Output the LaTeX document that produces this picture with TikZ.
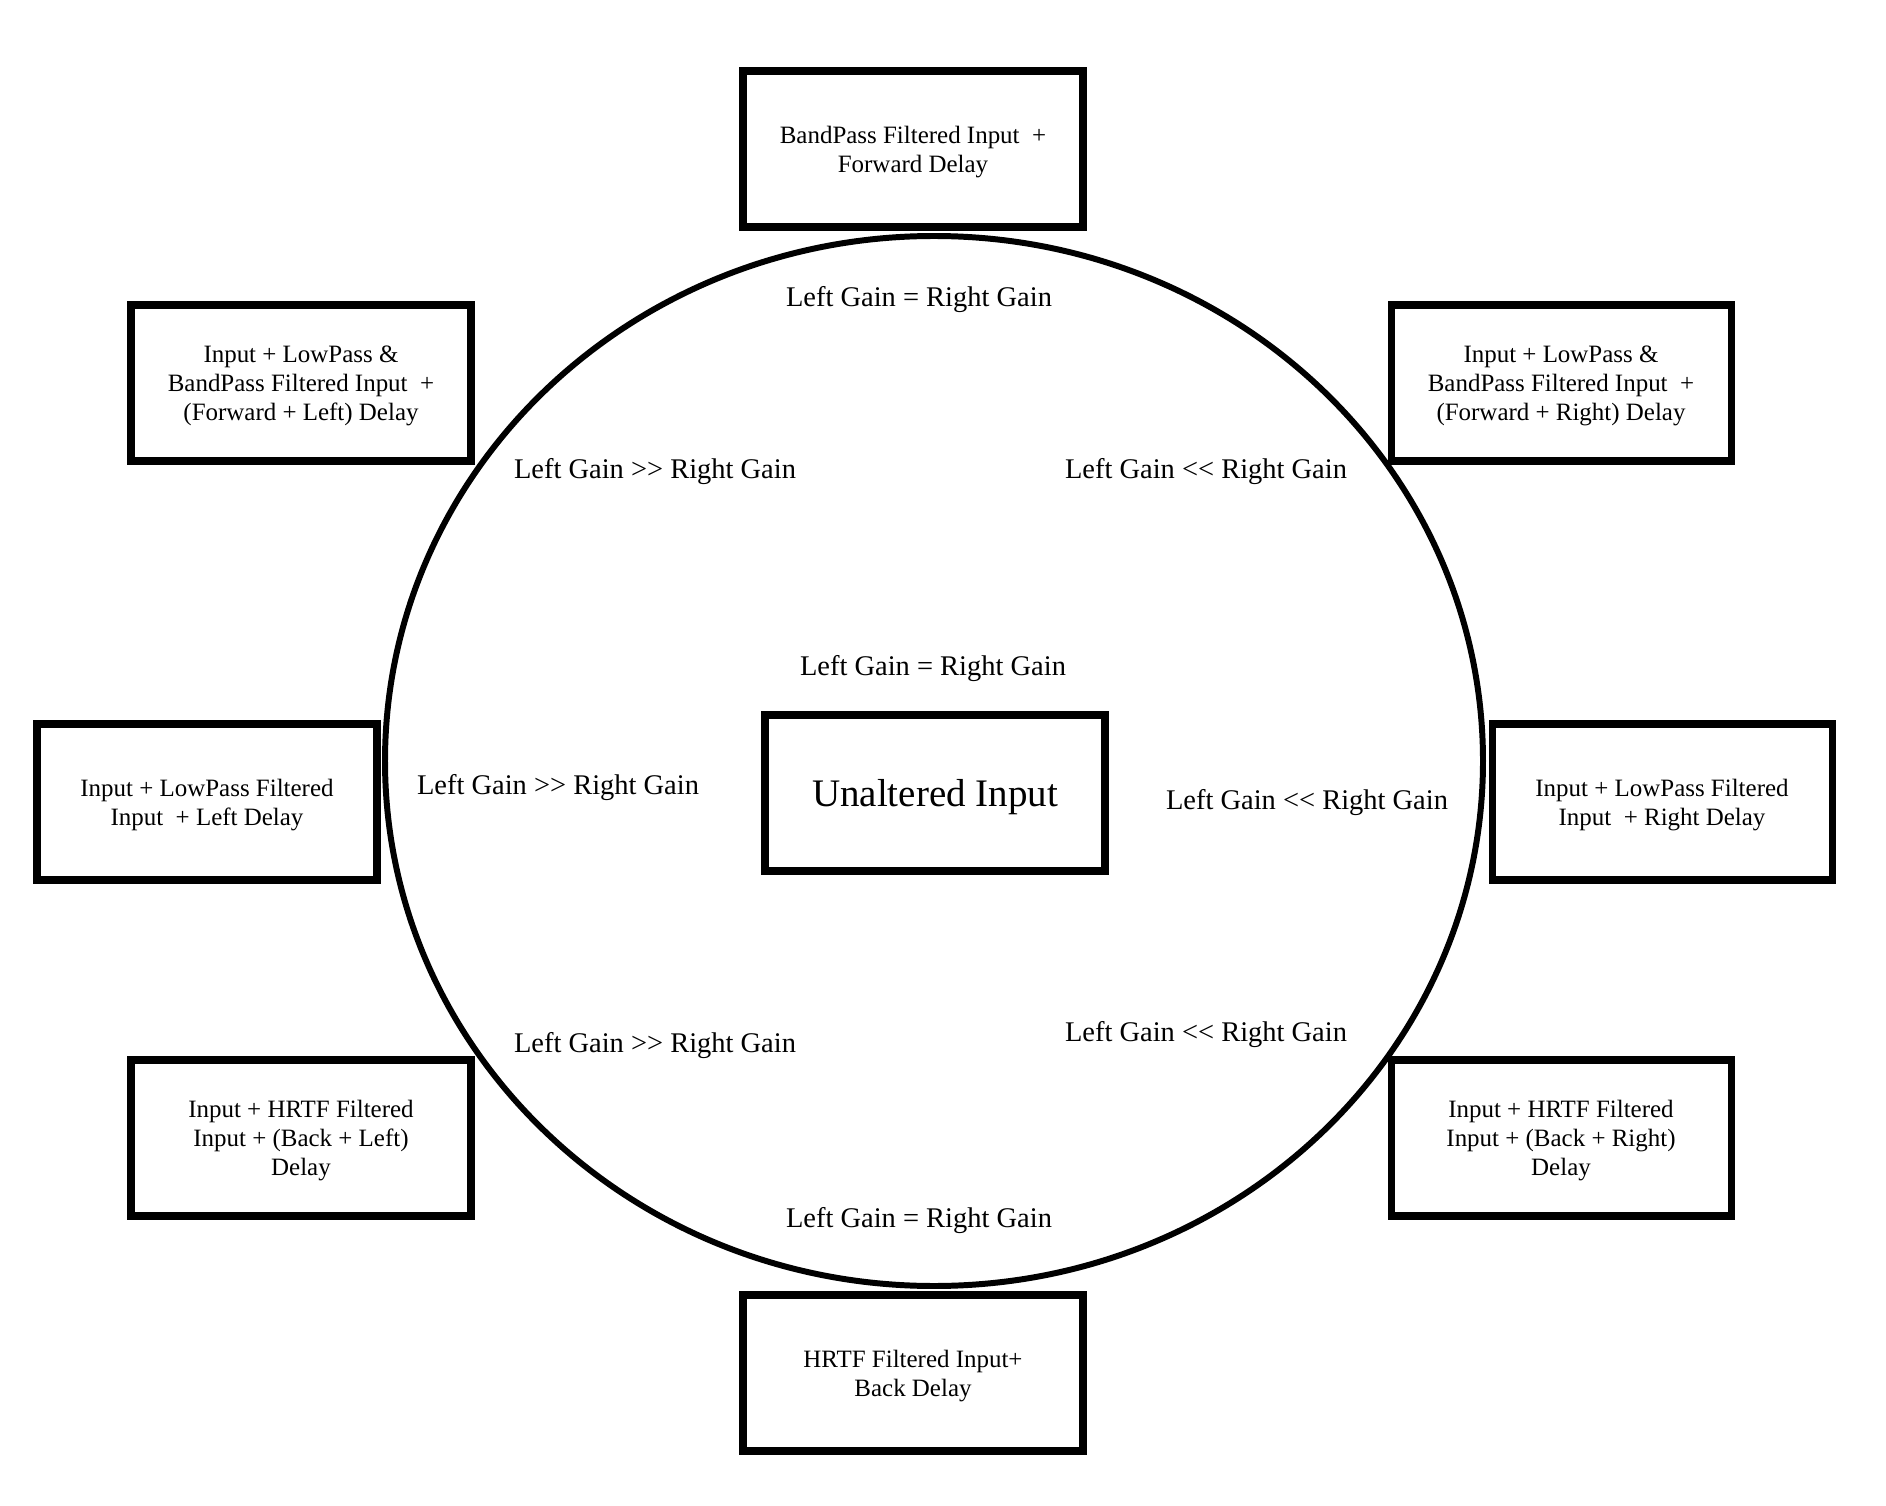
\documentclass[tikz,border=0pt]{standalone}
\usepackage{fontspec}
\setmainfont{Liberation Serif}
\newcommand{\gtgt}{>\kern0pt>}
\newcommand{\ltlt}{<\kern0pt<}

\begin{document}
\begin{tikzpicture}[x=0.1mm, y=-0.1mm,
    modebox/.style={draw, line width=2pt, minimum width=3.4cm, minimum height=1.56cm, inner sep=0pt, text depth=0pt, align=center, font=\fontsize{7.1}{8.3}\selectfont},
    gainlabel/.style={inner sep=0pt, font=\fontsize{8.1}{9.7}\selectfont}]
    \useasboundingbox (0,0) rectangle (1886,1506);

    \draw[line width=1.7pt] (934,761) ellipse [x radius=5.49cm, y radius=5.25cm];

    \node[modebox, font=\fontsize{11.1}{13}\selectfont] (unaltered) at (935,793) {Unaltered Input};

    \node[modebox] (fwd) at (913,149) {BandPass Filtered Input\ \ +\\Forward Delay};
    \node[modebox] (fwdleft) at (301,383) {Input + LowPass \&\\BandPass Filtered Input\ \ +\\(Forward + Left) Delay};
    \node[modebox] (fwdright) at (1561,383) {Input + LowPass \&\\BandPass Filtered Input\ \ +\\(Forward + Right) Delay};
    \node[modebox] (left) at (207,802) {Input + LowPass Filtered\\Input\ \ + Left Delay};
    \node[modebox] (right) at (1662,802) {Input + LowPass Filtered\\Input\ \ + Right Delay};
    \node[modebox] (backleft) at (301,1138) {Input + HRTF Filtered\\Input + (Back + Left)\\Delay};
    \node[modebox] (backright) at (1561,1138) {Input + HRTF Filtered\\Input + (Back + Right)\\Delay};
    \node[modebox] (back) at (913,1373) {HRTF Filtered Input+\\Back Delay};

    \node[gainlabel] (gtop) at (919,300) {Left Gain = Right Gain};
    \node[gainlabel] (gfwdleft) at (655,472) {Left Gain \gtgt{} Right Gain};
    \node[gainlabel] (gfwdright) at (1206,472) {Left Gain \ltlt{} Right Gain};
    \node[gainlabel] (gcenter) at (933,669) {Left Gain = Right Gain};
    \node[gainlabel] (gleft) at (558,788) {Left Gain \gtgt{} Right Gain};
    \node[gainlabel] (gright) at (1307,803) {Left Gain \ltlt{} Right Gain};
    \node[gainlabel] (gbackleft) at (655,1046) {Left Gain \gtgt{} Right Gain};
    \node[gainlabel] (gbackright) at (1206,1035) {Left Gain \ltlt{} Right Gain};
    \node[gainlabel] (gbottom) at (919,1221) {Left Gain = Right Gain};
\end{tikzpicture}
\end{document}
